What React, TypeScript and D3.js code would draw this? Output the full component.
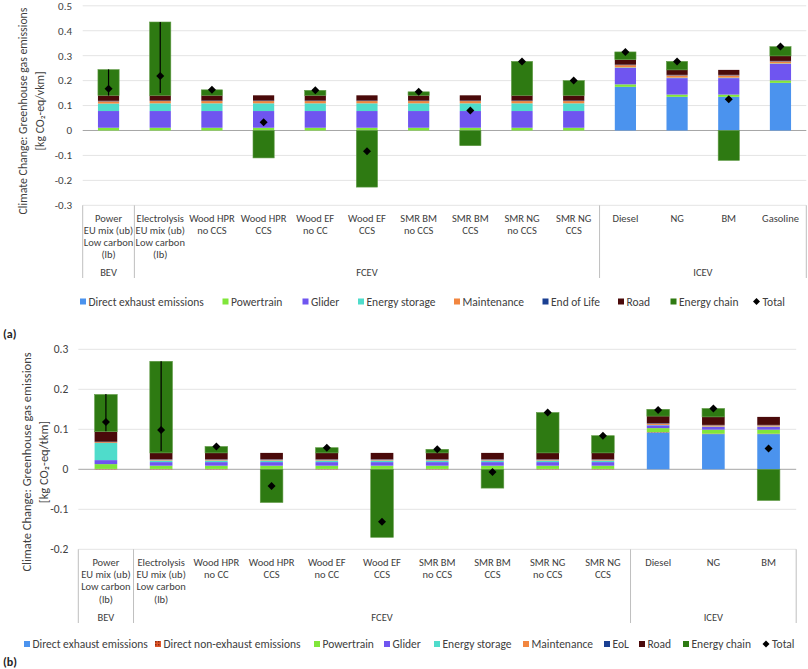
import React from "react";
import * as d3 from "d3";

// ---------- DATA ----------
const topCategories: string[][] = [
  ["Power", "EU mix (ub)", "Low carbon", "(lb)"],
  ["Electrolysis", "EU mix (ub)", "Low carbon", "(lb)"],
  ["Wood HPR", "no CCS"],
  ["Wood HPR", "CCS"],
  ["Wood EF", "no CC"],
  ["Wood EF", "CCS"],
  ["SMR BM", "no CCS"],
  ["SMR BM", "CCS"],
  ["SMR NG", "no CCS"],
  ["SMR NG", "CCS"],
  ["Diesel"],
  ["NG"],
  ["BM"],
  ["Gasoline"],
];
const topGroups = ["BEV", "FCEV", "ICEV"];
const topGroupSizes = [1, 9, 4];

const topExhaust = [0, 0, 0, 0, 0, 0, 0, 0, 0, 0, 0.175, 0.135, 0.135, 0.191];
const topPowertrain = [0.011, 0.011, 0.011, 0.011, 0.011, 0.011, 0.011, 0.011, 0.011, 0.011, 0.01, 0.009, 0.009, 0.01];
const topGlider = [0.067, 0.067, 0.067, 0.067, 0.067, 0.067, 0.067, 0.067, 0.067, 0.067, 0.066, 0.066, 0.066, 0.066];
const topStorage = [0.03, 0.031, 0.031, 0.031, 0.031, 0.031, 0.031, 0.031, 0.031, 0.031, 0.002, 0.002, 0.002, 0.002];
const topMaintenance = [0.009, 0.009, 0.009, 0.009, 0.009, 0.009, 0.009, 0.009, 0.009, 0.009, 0.009, 0.009, 0.009, 0.008];
const topEndOfLife = [0.002, 0.002, 0.002, 0.002, 0.002, 0.002, 0.002, 0.002, 0.002, 0.002, 0.002, 0.002, 0.002, 0.002];
const topRoad = [0.022, 0.021, 0.021, 0.021, 0.021, 0.021, 0.021, 0.021, 0.021, 0.021, 0.02, 0.02, 0.02, 0.02];
const topEnergyChain = [0.103, 0.294, 0.022, -0.11, 0.02, -0.227, 0.014, -0.061, 0.136, 0.059, 0.031, 0.034, -0.12, 0.037];
const topTotal = [0.167, 0.218, 0.163, 0.033, 0.161, -0.083, 0.155, 0.08, 0.277, 0.2, 0.315, 0.277, 0.125, 0.337];
const topErrLow: (number | null)[] = [0.14, 0.15, null, null, null, null, null, null, null, null, null, null, null, null];
const topErrHigh: (number | null)[] = [0.245, 0.435, null, null, null, null, null, null, null, null, null, null, null, null];
const topTicks = [-0.3, -0.2, -0.1, 0, 0.1, 0.2, 0.3, 0.4, 0.5];

const botCategories: string[][] = [
  ["Power", "EU mix (ub)", "Low carbon", "(lb)"],
  ["Electrolysis", "EU mix (ub)", "Low carbon", "(lb)"],
  ["Wood HPR", "no CC"],
  ["Wood HPR", "CCS"],
  ["Wood EF", "no CC"],
  ["Wood EF", "CCS"],
  ["SMR BM", "no CCS"],
  ["SMR BM", "CCS"],
  ["SMR NG", "no CCS"],
  ["SMR NG", "CCS"],
  ["Diesel"],
  ["NG"],
  ["BM"],
];
const botGroups = ["BEV", "FCEV", "ICEV"];
const botGroupSizes = [1, 9, 3];

const botExhaust = [0, 0, 0, 0, 0, 0, 0, 0, 0, 0, 0.092, 0.088, 0.088];
const botNonExhaust = [0.001, 0.001, 0.001, 0.001, 0.001, 0.001, 0.001, 0.001, 0.001, 0.001, 0.001, 0.001, 0.001];
const botPowertrain = [0.012, 0.008, 0.008, 0.008, 0.008, 0.008, 0.008, 0.008, 0.008, 0.008, 0.01, 0.01, 0.01];
const botGlider = [0.01, 0.009, 0.009, 0.009, 0.009, 0.009, 0.009, 0.009, 0.009, 0.009, 0.007, 0.007, 0.007];
const botStorage = [0.043, 0.004, 0.004, 0.004, 0.004, 0.004, 0.004, 0.004, 0.004, 0.004, 0.001, 0.001, 0.001];
const botMaintenance = [0.002, 0.002, 0.002, 0.002, 0.002, 0.002, 0.002, 0.002, 0.002, 0.002, 0.003, 0.003, 0.003];
const botEoL = [0.001, 0.001, 0.001, 0.001, 0.001, 0.001, 0.001, 0.001, 0.001, 0.001, 0.001, 0.001, 0.001];
const botRoad = [0.025, 0.016, 0.016, 0.016, 0.016, 0.016, 0.016, 0.016, 0.016, 0.016, 0.018, 0.02, 0.02];
const botEnergyChain = [0.093, 0.229, 0.016, -0.083, 0.013, -0.17, 0.009, -0.047, 0.101, 0.043, 0.017, 0.021, -0.078];
const botTotal = [0.118, 0.098, 0.057, -0.042, 0.054, -0.131, 0.05, -0.007, 0.142, 0.084, 0.148, 0.152, 0.052];
const botErrLow: (number | null)[] = [0.095, 0.046, null, null, null, null, null, null, null, null, null, null, null];
const botErrHigh: (number | null)[] = [0.188, 0.27, null, null, null, null, null, null, null, null, null, null, null];
const botTicks = [-0.2, -0.1, 0, 0.1, 0.2, 0.3];

// ---------- STYLE ----------
const FONT = "Carlito, 'Liberation Sans Narrow', Lato, sans-serif";
const COLORS: Record<string, string> = {
  exhaust: "#4b93ee",
  nonExhaust: "url(#nonExhaustPattern)",
  powertrain: "#80e63a",
  glider: "#6f55f0",
  storage: "#4fdccb",
  maintenance: "#f2863f",
  eol: "#1a3f92",
  road: "#4a0a0a",
  energy: "#2e7a12",
};

type Series = { key: string; label: string; values: number[] };

const topSeries: Series[] = [
  { key: "exhaust", label: "Direct exhaust emissions", values: topExhaust },
  { key: "powertrain", label: "Powertrain", values: topPowertrain },
  { key: "glider", label: "Glider", values: topGlider },
  { key: "storage", label: "Energy storage", values: topStorage },
  { key: "maintenance", label: "Maintenance", values: topMaintenance },
  { key: "eol", label: "End of Life", values: topEndOfLife },
  { key: "road", label: "Road", values: topRoad },
  { key: "energy", label: "Energy chain", values: topEnergyChain },
];
const botSeries: Series[] = [
  { key: "exhaust", label: "Direct exhaust emissions", values: botExhaust },
  { key: "nonExhaust", label: "Direct non-exhaust emissions", values: botNonExhaust },
  { key: "powertrain", label: "Powertrain", values: botPowertrain },
  { key: "glider", label: "Glider", values: botGlider },
  { key: "storage", label: "Energy storage", values: botStorage },
  { key: "maintenance", label: "Maintenance", values: botMaintenance },
  { key: "eol", label: "EoL", values: botEoL },
  { key: "road", label: "Road", values: botRoad },
  { key: "energy", label: "Energy chain", values: botEnergyChain },
];

type ChartProps = {
  series: Series[];
  categories: string[][];
  groups: string[];
  groupSizes: number[];
  totals: number[];
  errLow: (number | null)[];
  errHigh: (number | null)[];
  ticks: number[];
  x0: number;
  x1: number;
  yTop: number;
  yBottom: number;
  labelTop: number;
  lineH: number;
  groupY: number;
  sepBottom: number;
  title2: string;
  titleX: number;
  titleCY: number;
  titleSize: number;
  tickEnd: number;
  tickSize: number;
  legendY: number;
  legendX: number[];
};

function Chart(p: ChartProps) {
  const n = p.categories.length;
  const idx = d3.range(n).map(String);
  const x = d3.scaleBand<string>().domain(idx).range([p.x0, p.x1]).paddingInner(0.59).paddingOuter(0.295);
  const step = (p.x1 - p.x0) / n;
  const y = d3.scaleLinear().domain([p.ticks[0], p.ticks[p.ticks.length - 1]]).range([p.yBottom, p.yTop]);
  const rows = d3.range(n).map((i) => {
    const r: Record<string, number> = {};
    p.series.forEach((s) => (r[s.key] = s.values[i]));
    return r;
  });
  const stack = d3.stack<Record<string, number>>().keys(p.series.map((s) => s.key)).offset(d3.stackOffsetDiverging);
  const layers = stack(rows);
  const bw = x.bandwidth();

  const bounds: number[] = [0];
  p.groupSizes.forEach((g, i) => bounds.push(bounds[i] + g));
  const fmt = (t: number) => (Math.abs(t) < 1e-9 ? "0" : t.toFixed(1));

  return (
    <g fontFamily={FONT}>
      {p.ticks.map((t) => (
        <g key={t}>
          <line
            x1={p.x0}
            x2={p.x1}
            y1={y(t)}
            y2={y(t)}
            stroke={Math.abs(t) < 1e-9 ? "#a6a6a6" : "#e4e4e4"}
            strokeWidth={1}
          />
          <text x={p.tickEnd} y={y(t)} dy="0.35em" textAnchor="end" fontSize={p.tickSize} fill="#404040">
            {fmt(t)}
          </text>
        </g>
      ))}
      {layers.map((layer) => (
        <g key={layer.key} fill={COLORS[layer.key]}>
          {layer.map((d, i) =>
            d[1] - d[0] === 0 ? null : (
              <rect
                key={i}
                x={x(String(i))}
                width={bw}
                y={y(Math.max(d[0], d[1]))}
                height={Math.abs(y(d[0]) - y(d[1]))}
                stroke={layer.key === "energy" ? "#5f9a45" : "none"}
                strokeWidth={layer.key === "energy" ? 0.6 : 0}
              />
            )
          )}
        </g>
      ))}
      {p.errLow.map((lo, i) =>
        lo === null || p.errHigh[i] === null ? null : (
          <line
            key={i}
            x1={(x(String(i)) as number) + bw / 2}
            x2={(x(String(i)) as number) + bw / 2}
            y1={y(lo)}
            y2={y(p.errHigh[i] as number)}
            stroke="#000"
            strokeWidth={1.2}
          />
        )
      )}
      {p.totals.map((t, i) => {
        const cx = (x(String(i)) as number) + bw / 2;
        const cy = y(t);
        return <path key={i} d={`M${cx},${cy - 4}L${cx + 4},${cy}L${cx},${cy + 4}L${cx - 4},${cy}Z`} fill="#000" />;
      })}
      {bounds.map((b, i) => (
        <line
          key={i}
          x1={p.x0 + b * step}
          x2={p.x0 + b * step}
          y1={p.yBottom}
          y2={p.sepBottom}
          stroke="#bfbfbf"
          strokeWidth={1}
        />
      ))}
      {p.categories.map((lines, i) => (
        <text
          key={i}
          x={(x(String(i)) as number) + bw / 2}
          y={p.labelTop}
          textAnchor="middle"
          fontSize={10.5}
          fill="#404040"
        >
          {lines.map((l, j) => (
            <tspan key={j} x={(x(String(i)) as number) + bw / 2} y={p.labelTop + j * p.lineH} dy="0.35em">
              {l}
            </tspan>
          ))}
        </text>
      ))}
      {p.groups.map((g, i) => (
        <text
          key={g}
          x={p.x0 + ((bounds[i] + bounds[i + 1]) / 2) * step}
          y={p.groupY}
          dy="0.35em"
          textAnchor="middle"
          fontSize={10.5}
          fill="#404040"
        >
          {g}
        </text>
      ))}
      <text
        transform={`translate(${p.titleX},${p.titleCY}) rotate(-90)`}
        textAnchor="middle"
        fontSize={p.titleSize}
        fill="#404040"
      >
        <tspan x={0} y={0} dy="0.35em">Climate Change: Greenhouse gas emissions</tspan>
        <tspan x={0} y={16.5} dy="0.35em">{p.title2}</tspan>
      </text>
      {p.series.map((s, i) => (
        <g key={s.key} transform={`translate(${p.legendX[i]},${p.legendY})`}>
          <rect x={0} y={-3} width={6} height={6} fill={COLORS[s.key]} />
          <text x={8.5} y={0} dy="0.35em" fontSize={11.5} fill="#404040">
            {s.label}
          </text>
        </g>
      ))}
      <g transform={`translate(${p.legendX[p.series.length]},${p.legendY})`}>
        <path d="M0,-3.5L3.5,0L0,3.5L-3.5,0Z" fill="#000" />
        <text x={6} y={0} dy="0.35em" fontSize={11.5} fill="#404040">
          Total
        </text>
      </g>
    </g>
  );
}

export default function App() {
  return (
    <svg width={808} height={669} style={{ position: "absolute", left: 0, top: 0, background: "#fff" }}>
      <defs>
        <pattern id="nonExhaustPattern" width={3} height={3} patternUnits="userSpaceOnUse">
          <rect width={3} height={3} fill="#e0562a" />
          <rect width={1.5} height={1.5} fill="#8a2a10" />
        </pattern>
      </defs>
      <rect width={808} height={669} fill="#fff" />
      <Chart
        series={topSeries}
        categories={topCategories}
        groups={topGroups}
        groupSizes={topGroupSizes}
        totals={topTotal}
        errLow={topErrLow}
        errHigh={topErrHigh}
        ticks={topTicks}
        x0={82.7}
        x1={806.3}
        yTop={5.8}
        yBottom={205.3}
        labelTop={218.3}
        lineH={12}
        groupY={272.7}
        sepBottom={278}
        title2="[kg CO₂-eq/vkm]"
        titleX={23}
        titleCY={111}
        titleSize={11.8}
        tickEnd={72}
        tickSize={11}
        legendY={301.5}
        legendX={[80, 222.5, 302.5, 358, 454, 542.5, 618, 670.5, 756.5]}
      />
      <text x={3} y={334} dy="0.35em" fontFamily={FONT} fontWeight="bold" fontSize={12} fill="#222">
        (a)
      </text>
      <Chart
        series={botSeries}
        categories={botCategories}
        groups={botGroups}
        groupSizes={botGroupSizes}
        totals={botTotal}
        errLow={botErrLow}
        errHigh={botErrHigh}
        ticks={botTicks}
        x0={78.3}
        x1={796.2}
        yTop={349.3}
        yBottom={549.3}
        labelTop={562}
        lineH={12.4}
        groupY={617.5}
        sepBottom={623}
        title2="[kg CO₂-eq/tkm]"
        titleX={27}
        titleCY={462}
        titleSize={12.5}
        tickEnd={68.3}
        tickSize={11.5}
        legendY={644}
        legendX={[24, 155, 314, 384, 434, 523, 604, 639, 683, 766]}
      />
      <text x={3} y={662} dy="0.35em" fontFamily={FONT} fontWeight="bold" fontSize={12} fill="#222">
        (b)
      </text>
    </svg>
  );
}
